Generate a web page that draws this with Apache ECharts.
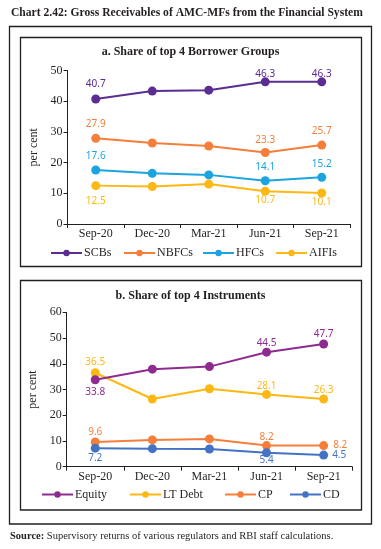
<!DOCTYPE html>
<html>
<head>
<meta charset="utf-8">
<script src="https://cdn.jsdelivr.net/npm/echarts@6/dist/echarts.min.js"></script>
<style>html,body{margin:0;padding:0;background:#fff;}#c{width:381px;height:549px;}</style>
</head>
<body>
<div id="c"></div>
<script>
const categories = ['Sep-20', 'Dec-20', 'Mar-21', 'Jun-21', 'Sep-21'];
const scbs = [40.7, 43.3, 43.6, 46.3, 46.3];
const nbfcs = [27.9, 26.4, 25.4, 23.3, 25.7];
const hfcs = [17.6, 16.5, 16.0, 14.1, 15.2];
const aifis = [12.5, 12.2, 13.0, 10.7, 10.1];
const equity = [33.8, 37.9, 38.9, 44.5, 47.7];
const ltDebt = [36.5, 26.3, 30.3, 28.1, 26.3];
const cp = [9.6, 10.4, 10.8, 8.2, 8.2];
const cd = [7.2, 7.0, 6.9, 5.4, 4.5];
const yTicksA = [0, 10, 20, 30, 40, 50];
const yTicksB = [0, 10, 20, 30, 40, 50, 60];

const INK = '#231F20';
const SERIF = '"Liberation Serif", "DejaVu Serif", serif';
const SANS = '"Noto Sans", "Liberation Sans", sans-serif';

function mkSeries(name, values, color, axisIdx, labelSpec, z) {
  return {
    name: name, type: 'line', xAxisIndex: axisIdx, yAxisIndex: axisIdx,
    symbol: 'circle', symbolSize: 9, z: z || 2,
    lineStyle: { color: color, width: 2 },
    itemStyle: { color: color },
    label: { show: false, color: color, fontFamily: SANS, fontSize: 10,
             formatter: p => Number(p.value).toFixed(1) },
    emphasis: { disabled: true },
    data: values.map((v, i) => labelSpec[i]
      ? { value: v, label: { show: true, position: labelSpec[i][0], distance: labelSpec[i][1] } }
      : v)
  };
}

function mkX(gi) {
  return {
    type: 'category', gridIndex: gi, data: categories, boundaryGap: true,
    axisLine: { lineStyle: { color: INK, width: 1 } },
    axisTick: { show: true, length: 4, lineStyle: { color: INK } },
    axisLabel: { color: INK, fontFamily: SERIF, fontSize: 12, margin: 4 }
  };
}
function mkY(gi, ticks) {
  return {
    type: 'value', gridIndex: gi, min: ticks[0], max: ticks[ticks.length - 1], interval: ticks[1] - ticks[0],
    name: 'per cent', nameLocation: 'middle', nameGap: 21, nameRotate: 90,
    nameTextStyle: { color: INK, fontFamily: SERIF, fontSize: 12 },
    axisLine: { show: true, lineStyle: { color: INK, width: 1 } },
    axisTick: { show: true, length: 4, lineStyle: { color: INK } },
    axisLabel: { color: INK, fontFamily: SERIF, fontSize: 12, margin: 5 },
    splitLine: { show: false }
  };
}
function mkLegend(name, left, top) {
  return {
    data: [name], left: left, top: top, itemWidth: 31, itemHeight: 8, itemGap: 0, padding: 0,
    textStyle: { color: INK, fontFamily: SERIF, fontSize: 12, padding: [0, 0, 0, -3] },
    selectedMode: false
  };
}

const chart = echarts.init(document.getElementById('c'), null, { renderer: 'canvas' });
chart.setOption({
  animation: false,
  backgroundColor: '#fff',
  title: [
    { text: 'Chart 2.42: Gross Receivables of AMC-MFs from the Financial System', left: 11, top: 7, padding: 0,
      textStyle: { color: INK, fontFamily: SERIF, fontWeight: 'bold', fontSize: 11.6 } },
    { text: 'a. Share of top 4 Borrower Groups', left: 'center', top: 46, padding: 0,
      textStyle: { color: INK, fontFamily: SERIF, fontWeight: 'bold', fontSize: 12 } },
    { text: 'b. Share of top 4 Instruments', left: 'center', top: 290, padding: 0,
      textStyle: { color: INK, fontFamily: SERIF, fontWeight: 'bold', fontSize: 12 } },
    { text: '{b|Source:} Supervisory returns of various regulators and RBI staff calculations.', left: 10, top: 531, padding: 0,
      textStyle: { rich: { b: { fontWeight: 'bold', fontFamily: SERIF, fontSize: 10.5, color: INK } },
                   color: INK, fontFamily: SERIF, fontSize: 10.5, fontWeight: 'normal' } }
  ],
  graphic: [
    { type: 'rect', shape: { x: 9.5, y: 26.5, width: 362, height: 497.5 }, style: { fill: 'none', stroke: INK, lineWidth: 1.3 }, silent: true },
    { type: 'rect', shape: { x: 20.5, y: 37.5, width: 341, height: 229 }, style: { fill: 'none', stroke: INK, lineWidth: 1.3 }, silent: true },
    { type: 'rect', shape: { x: 20.5, y: 280.5, width: 341, height: 229.5 }, style: { fill: 'none', stroke: INK, lineWidth: 1.3 }, silent: true }
  ],
  grid: [
    { left: 67.5, top: 70.5, width: 282.5, height: 153.5 },
    { left: 66.7, top: 312.3, width: 285.5, height: 154.4 }
  ],
  xAxis: [mkX(0), mkX(1)],
  yAxis: [mkY(0, yTicksA), mkY(1, yTicksB)],
  legend: [
    mkLegend('SCBs', 50, 247), mkLegend('NBFCs', 123, 247), mkLegend('HFCs', 202, 247), mkLegend('AIFIs', 275, 247),
    mkLegend('Equity', 41, 488.5), mkLegend('LT Debt', 129, 488.5), mkLegend('CP', 224, 488.5), mkLegend('CD', 289, 488.5)
  ],
  series: [
    mkSeries('SCBs', scbs, '#5B2C91', 0, [['top', 5], null, null, ['top', -2], ['top', -2]]),
    mkSeries('NBFCs', nbfcs, '#F47E3A', 0, [['top', 5], null, null, ['top', 3], ['top', 4]]),
    mkSeries('HFCs', hfcs, '#1BA4E0', 0, [['top', 4], null, null, ['top', 4], ['top', 4]]),
    mkSeries('AIFIs', aifis, '#FDB813', 0, [['bottom', 6], null, null, ['bottom', 0], ['bottom', 0]]),
    mkSeries('LT Debt', ltDebt, '#FDB813', 1, [['top', 1], null, null, ['top', -1], ['top', -1]], 2),
    mkSeries('Equity', equity, '#8E2B8F', 1, [['bottom', 3], null, null, ['top', 0], ['top', 0]], 3),
    mkSeries('CP', cp, '#F47E3A', 1, [['top', 0], null, null, ['top', -1], ['right', 5]]),
    mkSeries('CD', cd, '#4472C4', 1, [['bottom', 0], null, null, ['bottom', -2], ['right', 4]])
  ]
});
</script>
</body>
</html>
